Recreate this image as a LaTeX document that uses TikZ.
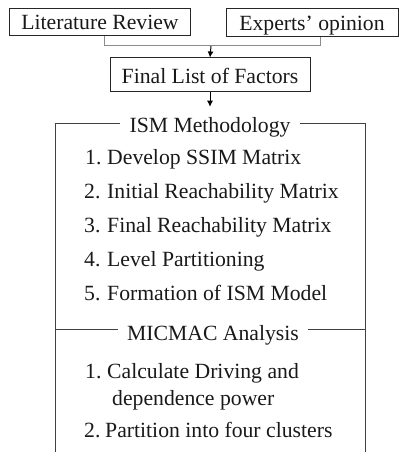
\documentclass[tikz,border=0pt]{standalone}
\usepackage{fontspec}
\setmainfont{Liberation Serif}
\usetikzlibrary{arrows.meta}
\begin{document}
\begin{tikzpicture}[x=1pt,y=-1pt,
  every node/.style={font=\fontsize{21.7}{25}\selectfont, text=black!90},
  topbox/.style={draw=black!85, line width=1pt, inner sep=0pt, align=center},
  conn/.style={draw=black!45, line width=1pt},
  arr/.style={draw=black, line width=1pt, -{Latex[length=6pt,width=6pt]}},
  frame/.style={draw=black!75, line width=1pt},
  item/.style={anchor=base west, inner sep=0pt}]
\useasboundingbox (0,0) rectangle (409,452);
% top boxes
\node[topbox, minimum width=181pt, minimum height=27pt, text height=17pt, text depth=2pt] (lit) at (100,22.5) {Literature Review};
\node[topbox, minimum width=172pt, minimum height=28pt, text height=17pt, text depth=2pt] (exp) at (312,23) {Experts’ opinion};
\node[topbox, minimum width=200pt, minimum height=33pt, text height=18pt, text depth=0pt] (final) at (210,74.5) {Final List of Factors};
\coordinate (litd) at (104,36);
\coordinate (expd) at (320,37);
\coordinate (join) at (211,46);
\draw[conn] (litd) -- (104,46) -- (320,46) -- (expd);
\draw[arr] (join) -- (final.north);
% ISM section
\node[anchor=base, inner sep=0pt] (ism) at (210,132) {ISM Methodology};
\draw[arr] (final.south) -- ([yshift=10pt]ism.north);
\coordinate (tl) at (55,123);
\coordinate (tr) at (365,123);
\coordinate (bl) at (55,452);
\coordinate (br) at (365,452);
\draw[frame] (120,123) -- (tl) -- (bl);
\draw[frame] (300,123) -- (tr) -- (br);
\node[item] (n1) at (85,164) {1.};
\node[item] (t1) at (107,164) {Develop SSIM Matrix};
\node[item] (n2) at (84,198) {2.};
\node[item] (t2) at (107,198) {Initial Reachability Matrix};
\node[item] (n3) at (84,232) {3.};
\node[item] (t3) at (107,232) {Final Reachability Matrix};
\node[item] (n4) at (84,266) {4.};
\node[item] (t4) at (107,266) {Level Partitioning};
\node[item] (n5) at (84,300) {5.};
\node[item] (t5) at (107,300) {Formation of ISM Model};
% MICMAC section
\node[anchor=base, inner sep=0pt] (mic) at (213,340) {MICMAC Analysis};
\draw[frame] (55,329) -- (118,329);
\draw[frame] (308,329) -- (365,329);
\node[item] (m1) at (85,378) {1.};
\node[item] (mt1) at (107,378) {Calculate Driving and};
\node[item] (mt1b) at (112,405) {dependence power};
\node[item] (m2) at (84,437) {2.};
\node[item] (mt2) at (105,437) {Partition into four clusters};
\end{tikzpicture}
\end{document}
